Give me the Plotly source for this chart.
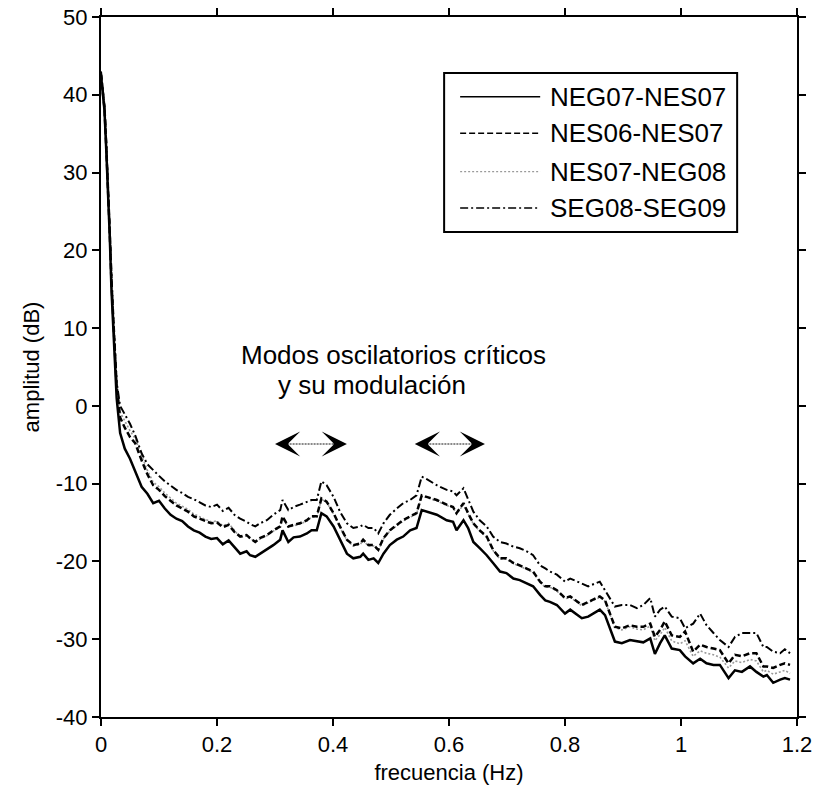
import plotly.graph_objects as go

# ---------------- data ----------------
freq = [
    0.000, 0.003, 0.006, 0.009, 0.012, 0.015, 0.018, 0.021, 0.024, 0.027,
    0.033, 0.041, 0.050, 0.059, 0.070, 0.080, 0.090, 0.100, 0.110, 0.120,
    0.130, 0.140, 0.150, 0.160, 0.170, 0.180, 0.190, 0.200, 0.210, 0.220, 0.230,
    0.240, 0.251, 0.257, 0.266, 0.274, 0.286, 0.297, 0.309, 0.313, 0.323,
    0.332, 0.343, 0.355, 0.363, 0.372, 0.380, 0.389, 0.401, 0.412, 0.424,
    0.435, 0.447, 0.452, 0.461, 0.470, 0.478, 0.487, 0.498, 0.510, 0.521,
    0.533, 0.544, 0.553, 0.561,
    0.579, 0.596, 0.607, 0.613, 0.625, 0.633, 0.642, 0.653, 0.665, 0.676,
    0.688, 0.699, 0.711, 0.722, 0.734, 0.745, 0.757, 0.766,
    0.774, 0.786, 0.800, 0.809, 0.829, 0.840, 0.860, 0.869, 0.886, 0.898,
    0.912, 0.924, 0.935, 0.947, 0.955, 0.964, 0.972, 0.984, 0.998, 1.007,
    1.021, 1.033, 1.044, 1.056, 1.067, 1.082, 1.093, 1.105, 1.119, 1.130,
    1.142, 1.148, 1.159, 1.171, 1.179, 1.188,
]

neg07_nes07 = [
    42.5, 40.0, 38.0, 33.0, 28.0, 22.0, 15.0, 10.0, 5.0, 1.0,
    -3.5, -5.5, -6.8, -8.4, -10.4, -11.3, -12.5, -12.2, -13.2, -14.0,
    -14.5, -14.8, -15.5, -16.0, -16.3, -16.8, -17.1, -17.0, -17.8, -17.3, -18.2,
    -19.0, -18.7, -19.2, -19.4, -19.0, -18.5, -17.9, -17.2, -16.0, -17.5,
    -16.9, -16.8, -16.4, -16.0, -16.0, -13.8, -14.2, -15.5, -17.2, -19.0,
    -19.6, -19.4, -19.0, -19.8, -19.6, -20.2, -19.0, -17.9, -17.2, -16.8,
    -16.0, -15.7, -13.4, -13.6,
    -14.0, -14.7, -14.9, -16.0, -14.7, -15.7, -17.5, -18.3, -19.2, -20.2,
    -21.3, -21.5, -22.2, -22.4, -22.8, -23.2, -24.3, -25.0,
    -25.2, -25.6, -26.7, -26.2, -27.3, -27.1, -26.2, -26.9, -30.3, -30.5,
    -30.1, -30.3, -30.4, -29.9, -31.9, -30.5, -29.5, -31.2, -31.4, -32.2,
    -33.1, -32.5, -33.1, -33.3, -33.3, -35.0, -34.0, -34.2, -33.5, -34.2,
    -34.8, -34.6, -35.6, -35.2, -35.0, -35.2,
]

nes06_nes07 = [
    42.6, 40.5, 38.3, 33.5, 28.5, 22.5, 16.0, 11.0, 6.0, 2.5,
    -1.5, -2.8, -4.0, -4.8, -7.0, -8.8, -10.2, -10.8, -11.6, -12.2,
    -12.8, -13.2, -13.6, -14.2, -14.5, -14.8, -15.1, -15.0, -15.6, -15.3, -16.2,
    -16.8, -16.6, -17.0, -17.5, -17.0, -16.6, -16.0, -15.5, -14.2, -15.5,
    -15.3, -15.1, -14.7, -14.2, -14.2, -11.9, -12.3, -13.8, -15.5, -17.2,
    -17.9, -17.7, -17.2, -17.9, -17.9, -18.5, -17.0, -16.0, -15.3, -14.7,
    -14.2, -13.8, -11.5, -11.7,
    -12.1, -12.7, -13.0, -13.8, -12.5, -13.8, -15.1, -16.0, -16.8, -18.5,
    -19.6, -19.6, -20.2, -20.5, -20.9, -21.3, -22.6, -23.2,
    -23.2, -23.7, -24.7, -24.5, -25.6, -25.2, -24.5, -25.0, -28.4, -28.6,
    -28.2, -28.4, -28.4, -28.0, -29.7, -28.8, -27.7, -29.5, -29.7, -29.0,
    -31.6, -30.7, -31.0, -31.2, -31.4, -33.1, -32.0, -32.2, -31.8, -31.8,
    -33.5, -33.5, -33.7, -33.3, -33.1, -33.3,
]

nes07_neg08 = [
    42.4, 40.2, 38.4, 33.8, 28.8, 23.0, 16.5, 11.5, 6.5, 3.0,
    -0.8, -2.0, -3.2, -4.2, -6.4, -8.3, -9.8, -10.4, -11.2, -11.9,
    -12.5, -12.9, -13.3, -13.9, -14.3, -14.6, -14.9, -14.8, -15.4, -15.1, -16.0,
    -16.9, -16.7, -17.1, -17.4, -17.1, -16.7, -16.1, -15.6, -14.4, -15.6,
    -15.4, -15.2, -14.8, -14.3, -14.3, -12.0, -12.4, -13.9, -15.6, -17.3,
    -18.0, -17.8, -17.3, -18.0, -18.0, -18.6, -17.1, -16.1, -15.4, -14.8,
    -14.3, -13.9, -11.6, -11.8,
    -12.2, -12.8, -13.1, -13.9, -12.7, -13.9, -15.2, -16.1, -16.9, -18.6,
    -19.7, -19.7, -20.3, -20.6, -21.0, -21.4, -22.7, -23.3,
    -23.3, -23.8, -24.8, -24.6, -25.7, -25.3, -24.6, -25.1, -28.5, -28.8,
    -28.4, -28.7, -28.8, -28.3, -30.2, -29.4, -28.5, -30.2, -30.6, -30.2,
    -32.2, -31.5, -31.8, -32.0, -32.3, -33.7, -32.8, -33.0, -32.6, -32.8,
    -34.2, -34.0, -34.5, -34.2, -34.0, -34.4,
]

seg08_seg09 = [
    43.0, 41.0, 38.5, 34.0, 29.0, 23.0, 17.0, 11.5, 6.5, 3.0,
    0.0, -1.0, -2.3, -3.8, -6.1, -7.5, -8.3, -9.0, -9.7, -10.3,
    -10.8, -11.2, -11.7, -12.0, -12.4, -12.8, -13.0, -12.7, -13.5, -13.1, -14.0,
    -14.5, -14.9, -15.2, -15.5, -15.1, -14.7, -14.0, -13.4, -12.1, -13.4,
    -13.0, -12.7, -12.4, -12.1, -12.1, -9.7, -10.2, -11.7, -13.6, -15.1,
    -15.7, -15.5, -15.3, -15.7, -15.7, -16.4, -15.1, -14.0, -13.2, -12.5,
    -12.1, -11.5, -9.1, -9.4,
    -10.2, -10.8, -11.0, -11.5, -10.6, -12.1, -13.6, -14.7, -15.5, -16.8,
    -17.5, -17.7, -18.1, -18.3, -18.7, -19.2, -20.5, -20.9,
    -21.3, -21.7, -22.6, -22.2, -22.8, -23.2, -22.6, -23.7, -25.8, -25.6,
    -25.6, -26.0, -25.6, -24.7, -27.1, -26.2, -25.8, -27.1, -27.3, -28.6,
    -28.0, -26.7, -28.2, -29.2, -30.1, -31.0, -29.7, -29.2, -29.2, -29.2,
    -31.0, -31.0, -31.6, -31.8, -31.3, -31.8,
]

series_names = ["NEG07-NES07", "NES06-NES07", "NES07-NEG08", "SEG08-SEG09"]

x_tickvals = [0, 0.2, 0.4, 0.6, 0.8, 1.0, 1.2]
x_ticktext = ["0", "0.2", "0.4", "0.6", "0.8", "1", "1.2"]
y_tickvals = [-40, -30, -20, -10, 0, 10, 20, 30, 40, 50]
y_ticktext = ["-40", "-30", "-20", "-10", "0", "10", "20", "30", "40", "50"]

annot_line1 = "Modos oscilatorios críticos"
annot_line2 = "y su modulación"

for s in (neg07_nes07, nes06_nes07, nes07_neg08, seg08_seg09):
    assert len(s) == len(freq), (len(s), len(freq))

# ---------------- styles ----------------
FONT = "Liberation Sans, Arial, sans-serif"
styles = {
    "NEG07-NES07": dict(color="black", width=2.5, dash="solid"),
    "NES06-NES07": dict(color="black", width=2.5, dash="6px,3px"),
    "NES07-NEG08": dict(color="#9a9a9a", width=1.6, dash="2px,2px"),
    "SEG08-SEG09": dict(color="black", width=2.0, dash="8px,3px,2px,3px"),
}
data_map = {
    "NEG07-NES07": neg07_nes07,
    "NES06-NES07": nes06_nes07,
    "NES07-NEG08": nes07_neg08,
    "SEG08-SEG09": seg08_seg09,
}

fig = go.Figure()
draw_order = ["NES07-NEG08", "SEG08-SEG09", "NES06-NES07", "NEG07-NES07"]
for name in draw_order:
    fig.add_trace(go.Scatter(x=freq, y=data_map[name], mode="lines", name=name,
                             line=styles[name], showlegend=False))

# ---------------- custom legend (box, line samples, labels) ----------------
L_X0, L_X1 = 0.493, 0.914
L_Y0, L_Y1 = 0.693, 0.920
row_y = [0.886, 0.834, 0.779, 0.727]
shapes = [dict(type="rect", xref="paper", yref="paper", x0=L_X0, x1=L_X1, y0=L_Y0, y1=L_Y1,
               line=dict(color="black", width=2), fillcolor="white", layer="above")]
annotations = []
for name, yy in zip(series_names, row_y):
    st = styles[name]
    shapes.append(dict(type="line", xref="paper", yref="paper", x0=0.516, x1=0.631, y0=yy, y1=yy,
                       line=dict(color=st["color"], width=1.5 if name != "NES07-NEG08" else 1.3,
                                 dash=st["dash"]), layer="above"))
    annotations.append(dict(xref="paper", yref="paper", x=0.644, y=yy, text=name, showarrow=False,
                            xanchor="left", yanchor="middle", borderpad=0,
                            font=dict(family=FONT, size=26, color="black")))

# ---------------- text annotation and arrows ----------------
annotations.append(dict(x=0.240, y=6.55, xref="x", yref="y", text=annot_line1, showarrow=False,
                        xanchor="left", yanchor="middle", borderpad=0,
                        font=dict(family=FONT, size=26, color="black")))
annotations.append(dict(x=0.303, y=2.65, xref="x", yref="y", text=annot_line2, showarrow=False,
                        xanchor="left", yanchor="middle", borderpad=0,
                        font=dict(family=FONT, size=26, color="black")))

arrow_pairs = [(0.300, 0.424), (0.541, 0.662)]
arrow_y = -4.9
for xa, xb in arrow_pairs:
    shapes.append(dict(type="line", xref="x", yref="y", x0=xa + 0.02, x1=xb - 0.02,
                       y0=arrow_y, y1=arrow_y, line=dict(color="#8a8a8a", width=2, dash="2px,1px")))
    for tip, tail in ((xa, xa + 0.02), (xb, xb - 0.02)):
        annotations.append(dict(x=tip, y=arrow_y, ax=tail, ay=arrow_y, xref="x", yref="y",
                                axref="x", ayref="y", text="", showarrow=True,
                                arrowhead=3, arrowsize=2.1, arrowwidth=2, arrowcolor="black"))

axis_common = dict(showline=True, linecolor="black", linewidth=2, mirror="ticks",
                   ticks="outside", ticklen=7, tickwidth=2, tickcolor="black",
                   showgrid=False, zeroline=False, automargin=False,
                   tickfont=dict(family=FONT, size=22, color="black"))

fig.update_layout(
    width=816, height=795,
    margin=dict(l=101, r=19, t=17, b=78),
    paper_bgcolor="white", plot_bgcolor="white",
    showlegend=False,
    shapes=shapes, annotations=annotations,
    xaxis=dict(range=[0, 1.2], tickvals=x_tickvals, ticktext=x_ticktext,
               title=dict(text="frecuencia (Hz)", font=dict(family=FONT, size=22, color="black"), standoff=8),
               **axis_common),
    yaxis=dict(range=[-40, 50], tickvals=y_tickvals, ticktext=y_ticktext,
               title=dict(text="amplitud (dB)", font=dict(family=FONT, size=22, color="black"), standoff=10),
               **axis_common),
)

fig.write_html("out.html")
